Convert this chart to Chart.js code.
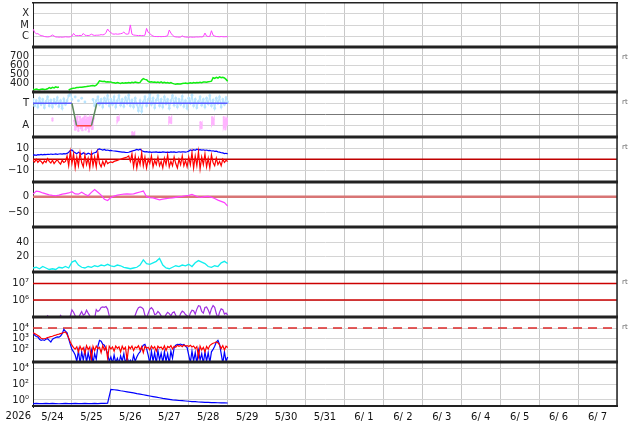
<!DOCTYPE html>
<html>
<head>
<meta charset="utf-8">
<title>Space weather overview</title>
<script src="https://cdn.jsdelivr.net/npm/chart.js@4.4.1/dist/chart.umd.min.js"></script>
<style>
html, body { margin: 0; padding: 0; background: #fff; }
#wrap { position: relative; width: 634px; height: 424px; overflow: hidden; }
#wrap canvas { position: absolute; left: 0; }
</style>
</head>
<body>
<div id="wrap"></div>
<script>
// x axis: days counted from 2026-05-24 00:00, one label per day at noon
var yearLabel = '2026';
var dayLabels = ['5/24', '5/25', '5/26', '5/27', '5/28', '5/29', '5/30', '5/31',
    '6/ 1', '6/ 2', '6/ 3', '6/ 4', '6/ 5', '6/ 6', '6/ 7'];

// panel 1: x-ray flux, 1e-6 W/m2 (C = 1), hourly
var xrayTicks = [1, 10, 100];
var xrayTickLabels = ['C', 'M', 'X'];
var xrayFlux = [
    4.5, 2.4, 1.7, 1.8, 1.4, 1.2, 1.15, 1.0, 0.95, 0.92, 0.95, 1.1, 1.35, 1.1, 0.92, 0.9, 0.88, 0.9, 0.87, 0.9, 0.95, 0.92, 0.9, 0.95,
    1.1, 1.85, 1.25, 1.2, 1.2, 1.25, 1.2, 1.85, 1.3, 1.25, 1.2, 1.3, 1.6, 1.35, 1.25, 1.3, 1.3, 1.35, 1.45, 1.4, 1.5, 2.2, 4.5, 2.8,
    2.2, 1.7, 1.6, 1.7, 1.6, 1.65, 1.75, 1.9, 2.5, 1.7, 1.6, 1.7, 10.2, 1.6, 1.35, 1.3, 1.25, 1.2, 1.25, 1.2, 1.2, 1.3, 5.1, 2.3,
    1.9, 1.3, 1.1, 1.0, 1.0, 0.98, 1.0, 0.97, 1.0, 1.0, 1.05, 1.2, 3.7, 2.0, 1.3, 1.0, 0.92, 0.9, 0.88, 0.9, 1.15, 0.95, 0.9, 0.88,
    0.87, 0.9, 0.88, 0.87, 0.9, 0.92, 0.9, 0.95, 0.92, 1.0, 2.0, 1.1, 1.0, 1.05, 3.2, 1.3, 1.1, 1.0, 0.98, 0.95, 1.0, 0.96, 0.95, 0.97,
    0.96
];

// panel 2: solar wind speed km/s, hourly
var speedTicks = [400, 500, 600, 700];
var windSpeed = [
    330, 326, 332, 328, 325, 330, 334, 328, 331, 336, 348, 340, 352, 345, 358, 350, 355, null, null, null, null, null, 322, 332,
    338, 342, 345, 349, 350, 354, 352, 356, 358, 360, 364, 366, 370, 372, 368, 376, 398, 424, 420, 416, 418, 412, 414, 410,
    412, 404, 402, 398, 405, 400, 396, 402, 398, 403, 399, 404, 400, 408, 404, 410, 406, 402, 407, 432, 448, 440, 436, 418,
    410, 414, 408, 412, 406, 410, 404, 412, 402, 408, 400, 406, 398, 404, 396, 390, 386, 392, 388, 390, 394, 396, 400, 394,
    398, 402, 397, 404, 400, 406, 402, 408, 404, 410, 412, 408, 414, 416, 420, 458, 452, 462, 455, 468, 458, 464, 456, 440,
    420
];

// panel 3: field direction (phi, degrees), T = toward, A = away
var phiTicks = [90, 180, 270];
var phiTickLabels = ['A', '', 'T'];
var sectorDays = [0, 1.0, 1.12, 1.5, 1.64, 5.0];
var sectorPhi = [270, 270, 90, 90, 270, 270];
var phiToward = [
    300, 250, 290, 240, 310, 260, 300, 235, 285, 320, 250, 295, 240, 300, 265, 315, 245, 290, 230, 305, 260, 290, 330, 350,
    300, null, 320, null, 290, null, 310, null, 280, null, null, null, null, 300, 250, 290, 320, 260, 300, 240, 310, 270, 330, 250,
    300, 260, 320, 240, 290, 330, 255, 300, 245, 315, 270, 335, 250, 295, 240, 310, 260, 210, 290, 205, 280, 320, 250, 300,
    340, 260, 310, 235, 295, 330, 250, 300, 240, 320, 265, 300, 230, 290, 330, 255, 310, 240, 300, 260, 325, 245, 290, 230,
    310, 270, 335, 250, 300, 235, 285, 320, 255, 300, 240, 310, 265, 330, 250, 295, 230, 310, 270, 320, 240, 300, 260, 315,
    280
];
// half-hourly from day 1.06
var phiAwayDense = [130, 60, 150, 80, 165, 50, 120, 160, 70, 140, 55, 150, 90, 165, 60, 130, 75, 155, 45, 140, 100, 160, 65, 120, 150];
var phiAwayDays = [0.50, 0.50, 0.50, 2.17, 2.17, 2.20, 2.20, 2.20, 2.55, 2.55, 2.60, 2.60, 2.60, 3.50, 3.50, 3.55, 3.55, 3.55,
    4.30, 4.30, 4.33, 4.33, 4.33, 4.60, 4.60, 4.64, 4.64, 4.64, 4.90, 4.90, 4.94, 4.94, 4.98, 4.98];
var phiAway = [150, 130, null, 160, 130, 150, 135, null, 40, 10, 30, 5, null, 160, 120, 150, 110, null,
    120, 80, 100, 70, null, 160, 110, 140, 100, null, 160, 90, 130, 60, 150, 100];

// panel 4: IMF Bt and Bz, nT, hourly
var imfTicks = [-10, 0, 10];
var imfTickLabels = ['\u221210', '0', '10'];
var imfBt = [
    3.8, 4.0, 3.6, 4.2, 4.0, 4.4, 4.1, 4.5, 4.2, 4.6, 4.4, 4.8, 4.5, 4.6, 4.9, 4.5, 4.8, 5.0, 4.7, 5.2, 5.0, 5.4, 6.5, 8.0,
    8.5, 7.0, 6.0, 5.0, 6.5, 5.5, 4.5, 6.0, 5.0, 4.5, 5.5, 5.0, 4.0, 5.5, 6.0, 6.5, 9.0, 9.5, 9.0, 8.5, 9.0, 8.2, 8.5, 8.0,
    8.2, 7.8, 7.6, 7.4, 7.2, 7.0, 6.8, 6.6, 6.5, 6.3, 6.2, 6.4, 7.0, 7.5, 8.0, 8.4, 9.0, 8.5, 9.2, 8.0, 7.2, 6.8, 7.0, 6.6,
    6.8, 6.4, 6.6, 6.5, 6.8, 6.3, 6.6, 6.4, 6.7, 6.5, 6.3, 6.6, 6.4, 6.8, 6.5, 6.7, 6.4, 6.6, 6.9, 6.5, 6.7, 6.8, 6.5, 6.9,
    7.5, 8.5, 8.0, 8.8, 8.3, 9.2, 8.6, 8.9, 8.4, 8.7, 8.2, 8.5, 7.9, 8.2, 7.6, 7.8, 7.2, 7.4, 6.8, 6.5, 6.0, 5.8, 5.2, 5.5,
    5.0
];
var imfBz = [
    -1, -2.5, 0, -3, -1, -2, -4, -1.5, -3, 0.5, -2, -3.5, -1, -4, -2, -0.5, -3, -4.5, -1, -3, -2, 3, -6, 7,
    -4, 5, -8, 2, -6, 6, -3, -7, 4, -5, 1, -8, 5, -6, 2, -7, 6, -4, -7, -2, -6, -1, -4, -3,
    -2.5, -3, -2, -1.5, -1, -0.5, 0, 0.5, 1, 1.5, 2, 3, -2, 5, -7, 3, -8, 1, -5, 6, -6, 2, -8, 0,
    -4, 3, -7, -1, -5, 2, -6, -2, -8, 1, -5, 4, -7, -2, -6, 2, -4, -8, 0, -5, 3, -6, -1, -7,
    2, -5, 6, -8, 3, -6, 7, -9, 2, -5, 5, -7, 1, -8, 4, -3, -6, 1, -5, -2, -6, 0, -3, -1,
    -2
];

// panel 5: Dst, nT, every 2 hours
var dstTicks = [-50, 0];
var dstTickLabels = ['\u221250', '0'];
var dst = [
    8, 18, 16, 12, 9, 6, 4, 3, 5, 8, 10, 12,
    16, 9, 8, 14, 8, 3, 14, 23, 14, 5, -8, -12,
    -3, 2, 5, 7, 8, 9, 8, 9, 12, 15, 18, 0,
    -3, -4, -7, -10, -8, -6, -5, -4, -2, 0, 1, 3,
    4, 7, 3, -1, -2, 0, 1, -2, -6, -11, -15, -19,
    -30
];

// panel 6: every 2 hours
var cyanTicks = [20, 40];
var cyanValues = [
    5, 6, 4, 7, 5, 3, 4, 3, 6, 5, 7, 5,
    13, 15, 9, 6, 5, 7, 6, 8, 7, 9, 8, 10,
    8, 7, 9, 8, 6, 5, 4, 5, 6, 9, 16, 11,
    10, 12, 14, 18, 9, 5, 4, 6, 8, 7, 9, 8,
    10, 7, 12, 15, 13, 11, 7, 6, 8, 7, 12, 14,
    11
];

// panel 7: electron flux, hourly
var electronTicks = [1e6, 1e7];
var electronTickLabels = ['10\u2076', '10\u2077'];
var electronLevels = [1e7, 1e6];
var electronFlux = [
    8e4, 8e4, 8e4, 8e4, 8e4, 8e4, 8e4, 8e4, 8e4, 1.1e5, 8e4, 8e4, 8e4, 8e4, 8e4, 8e4, 8e4, 1.15e5, 8e4, 8e4, 8e4, 8e4, 8e4, 1.1e5,
    2.5e5, 1.8e5, 1.1e5, 8e4, 8e4, 1.3e5, 2.0e5, 1.2e5, 1.4e5, 2.4e5, 1.6e5, 1.1e5, 8e4, 8e4, 8e4, 2.6e5, 2.0e5, 2.4e5, 3.5e5, 3.8e5, 3.6e5, 4.0e5, 2.8e5, 1.1e5,
    8e4, 8e4, 8e4, 8e4, 8e4, 8e4, 8e4, 8e4, 8e4, 8e4, 8e4, 8e4, 8e4, 8e4, 8e4, 1.2e5, 2.2e5, 3.4e5, 3.8e5, 3.5e5, 2.8e5, 1.2e5, 8e4, 1.5e5,
    2.8e5, 3.4e5, 2.6e5, 1.3e5, 1.4e5, 2.0e5, 1.6e5, 1.1e5, 8e4, 8e4, 1.3e5, 1.8e5, 1.5e5, 1.1e5, 1.7e5, 1.9e5, 1.2e5, 8e4, 8e4, 1.5e5, 2.1e5, 1.8e5, 1.3e5, 1.1e5,
    8e4, 1.6e5, 2.4e5, 2.2e5, 1.4e5, 2.8e5, 4.5e5, 4.2e5, 2.0e5, 1.6e5, 3.5e5, 3.8e5, 2.5e5, 1.4e5, 3.0e5, 4.6e5, 3.6e5, 1.5e5, 8e4, 1.8e5, 2.9e5, 2.6e5, 1.4e5, 1.6e5,
    1.2e5
];

// panel 8: proton flux, hourly
var protonTicks = [1e2, 1e3, 1e4];
var protonTickLabels = ['10\u00b2', '10\u00b3', '10\u2074'];
var protonLevel = 1e4;
var protonRed = [
    3600, 3000, 2500, 2000, 1600, 1100, 1000, 1000, 1100, 1300, 1400, 1600, 1700, 2000, 2200, 2500, 2700, 3000, 3300, 3800, 4300, 2500, 1200, 500,
    250, 150, 110, 180, 60, 200, 90, 150, 40, 220, 100, 170, 12, 190, 80, 210, 120, 160, 50, 230, 90, 180, 15, 200,
    110, 170, 70, 210, 130, 180, 60, 200, 100, 160, 10, 190, 120, 210, 80, 170, 140, 220, 90, 180, 50, 200, 130, 160,
    90, 210, 120, 180, 70, 200, 140, 170, 100, 220, 80, 190, 150, 230, 110, 200, 160, 250, 200, 240, 180, 260, 210, 230,
    190, 250, 170, 210, 120, 180, 20, 200, 90, 160, 60, 190, 110, 230, 300, 380, 420, 500, 420, 260, 120, 230, 90, 200,
    150
];
var protonBlue = [
    3600, 2200, 1600, 1500, 900, 700, 800, 700, 900, 1000, 700, 500, 900, 1100, 1300, 1500, 1400, 1800, 3000, 7500, 5000, 3500, 1000, 300,
    100, 60, 30, 8, 80, 5, 60, 10, 90, 6, 50, 9, 80, 5, 40, 12, 200, 700, 600, 300, 250, 100, 40, 8,
    20, 5, 30, 6, 15, 5, 25, 8, 40, 5, 20, 6, 10, 5, 30, 8, 20, 40, 60, 150, 250, 300, 120, 30,
    5, 70, 8, 50, 5, 80, 10, 45, 6, 60, 8, 40, 5, 70, 15, 150, 250, 300, 280, 320, 260, 300, 200, 150,
    30, 6, 70, 8, 50, 5, 80, 10, 40, 5, 60, 8, 50, 6, 60, 100, 200, 500, 700, 300, 40, 5, 60, 8,
    20
];

// panel 9: every 2 hours
var lowTicks = [1, 1e2, 1e4];
var lowTickLabels = ['10\u2070', '10\u00b2', '10\u2074'];
var lowValues = [
    0.33, 0.36, 0.34, 0.35, 0.37, 0.34, 0.36, 0.35, 0.33, 0.35, 0.36, 0.34,
    0.35, 0.37, 0.35, 0.34, 0.36, 0.35, 0.34, 0.36, 0.35, 0.36, 0.37, 0.4,
    22, 20, 18, 15, 13, 11, 9.5, 8, 6.5, 5.5, 4.6, 3.8,
    3.2, 2.7, 2.3, 1.9, 1.6, 1.4, 1.2, 1.05, 0.95, 0.85, 0.8, 0.74,
    0.68, 0.63, 0.6, 0.55, 0.52, 0.5, 0.48, 0.46, 0.45, 0.44, 0.43, 0.42,
    0.41
];

Chart.defaults.font.family = 'DejaVu Sans';
Chart.defaults.font.size = 10;
Chart.defaults.color = '#222';

var wrap = document.getElementById('wrap');
var PANEL_TOP = 2, PANEL_H = 45, AXIS_W = 33, RIGHT_PAD = 17;

// values at a fixed step (hours) from a start day
function timed(values, stepHours, startDay) {
    stepHours = stepHours || 1;
    startDay = startDay || 0;
    return values.map(function (v, i) {
        return { x: startDay + i * stepHours / 24, y: v };
    });
}

function paired(days, values) {
    return values.map(function (v, i) { return { x: days[i], y: v }; });
}

function level(value) {
    return [{ x: 0, y: value }, { x: 15, y: value }];
}

function line(data, color, width, extra) {
    var ds = {
        data: data,
        borderColor: color,
        backgroundColor: color,
        borderWidth: width || 1,
        pointRadius: 0,
        fill: false
    };
    return Object.assign(ds, extra || {});
}

// tick labels must not shrink the plot area
function noPadding(scale) {
    scale.paddingTop = 0;
    scale.paddingBottom = 0;
    scale.paddingLeft = 0;
    scale.paddingRight = 0;
}

var framePlugin = {
    id: 'frame',
    afterDraw: function (chart, args, opts) {
        var a = chart.chartArea;
        var ctx = chart.ctx;
        ctx.save();
        ctx.strokeStyle = '#222';
        ctx.lineWidth = 3;
        ctx.beginPath();
        ctx.moveTo(a.left - 1, a.top);
        ctx.lineTo(a.right + 1, a.top);
        ctx.stroke();
        ctx.lineWidth = opts.last ? 2 : 3;
        ctx.beginPath();
        ctx.moveTo(a.left - 1, opts.last ? a.bottom - 1 : a.bottom);
        ctx.lineTo(a.right + 1, opts.last ? a.bottom - 1 : a.bottom);
        ctx.stroke();
        ctx.lineWidth = 1.5;
        ctx.beginPath();
        ctx.moveTo(a.right, a.top);
        ctx.lineTo(a.right, a.bottom);
        ctx.stroke();
        if (opts.rt) {
            ctx.fillStyle = '#666';
            ctx.font = '7px "DejaVu Sans"';
            ctx.textBaseline = 'middle';
            ctx.fillText('rt', a.right + 5, a.top + 10);
        }
        if (opts.last) {
            ctx.fillStyle = '#111';
            ctx.font = '10px "DejaVu Sans"';
            ctx.textAlign = 'right';
            ctx.textBaseline = 'top';
            ctx.fillText(yearLabel, 31, a.bottom + 4);
        }
        ctx.restore();
    }
};

function makePanel(index, cfg) {
    var last = index === 8;
    var canvas = document.createElement('canvas');
    canvas.width = 634;
    canvas.height = last ? 62 : PANEL_H;
    canvas.style.top = (PANEL_TOP + PANEL_H * index) + 'px';
    wrap.appendChild(canvas);

    return new Chart(canvas, {
        type: 'line',
        data: { datasets: cfg.datasets },
        options: {
            responsive: false,
            animation: false,
            events: [],
            layout: { autoPadding: false, padding: { left: 0, right: RIGHT_PAD, top: 0, bottom: 0 } },
            plugins: {
                legend: { display: false },
                tooltip: { enabled: false },
                frame: { rt: !!cfg.rt, last: last }
            },
            scales: {
                x: {
                    type: 'linear',
                    min: 0,
                    max: 15,
                    afterBuildTicks: function (scale) {
                        var ticks = [];
                        for (var i = 0; i <= 30; i++) ticks.push({ value: i / 2 });
                        scale.ticks = ticks;
                    },
                    afterFit: function (scale) {
                        noPadding(scale);
                        scale.height = last ? 17 : 0;
                    },
                    grid: {
                        drawTicks: false,
                        color: function (ctx) {
                            return ctx.tick && ctx.tick.value % 1 === 0 ? '#c8c8c8' : 'rgba(0,0,0,0)';
                        }
                    },
                    border: { display: false },
                    ticks: {
                        display: last,
                        autoSkip: false,
                        maxRotation: 0,
                        padding: 4,
                        color: '#111',
                        callback: function (value) {
                            return value % 1 === 0.5 ? dayLabels[Math.floor(value)] : '';
                        }
                    }
                },
                y: {
                    type: cfg.type || 'linear',
                    min: cfg.min,
                    max: cfg.max,
                    bounds: 'data',
                    afterBuildTicks: function (scale) {
                        scale.ticks = cfg.ticks.map(function (v) { return { value: v }; });
                    },
                    afterFit: function (scale) {
                        noPadding(scale);
                        scale.width = AXIS_W;
                    },
                    grid: { drawTicks: false, color: cfg.gridColor || '#d4d4d4' },
                    border: { color: '#222', width: 1 },
                    ticks: {
                        autoSkip: false,
                        padding: 4,
                        color: '#222',
                        callback: function (value, i) { return cfg.labels[i]; }
                    }
                }
            }
        },
        plugins: [framePlugin]
    });
}

var sectorColor = function (ctx) {
    var a = ctx.p0.parsed.y, b = ctx.p1.parsed.y;
    if (a !== b) return '#5f8a5f';
    return a > 180 ? '#5a5aff' : '#ff4444';
};

var panels = [
    {
        type: 'logarithmic', min: 0.123, max: 1000, ticks: xrayTicks, labels: xrayTickLabels,
        datasets: [line(timed(xrayFlux), '#ff40ff', 1)]
    },
    {
        min: 300, max: 800, ticks: speedTicks, labels: speedTicks.map(String), rt: true,
        datasets: [line(timed(windSpeed), '#11ee11', 1.5)]
    },
    {
        min: 0, max: 360, ticks: phiTicks, labels: phiTickLabels, rt: true,
        gridColor: function (ctx) { return ctx.tick && ctx.tick.value === 180 ? '#777' : '#d4d4d4'; },
        datasets: [
            line(paired(sectorDays, sectorPhi), '#5a5aff', 1.5, { segment: { borderColor: sectorColor } }),
            line(timed(phiToward), '#b8e4ff', 1.3, { pointRadius: 1.4, pointBorderWidth: 0 }),
            line(timed(phiAwayDense, 0.5, 1.06), '#ffb4ff', 1.5, { pointRadius: 1.2, pointBorderWidth: 0 }),
            line(paired(phiAwayDays, phiAway), '#ffb4ff', 2, { pointRadius: 1, pointBorderWidth: 0 })
        ]
    },
    {
        min: -21, max: 20.5, ticks: imfTicks, labels: imfTickLabels, rt: true,
        datasets: [
            line(timed(imfBz), '#ff0000', 1.2),
            line(timed(imfBt), '#0000ff', 1.2),
            line(level(0), '#c00000', 1.5)
        ]
    },
    {
        min: -97, max: 47, ticks: dstTicks, labels: dstTickLabels,
        datasets: [
            line(timed(dst, 2), '#ff40ff', 1.2),
            line(level(0), '#d87575', 2.5)
        ]
    },
    {
        min: -0.4, max: 60.4, ticks: cyanTicks, labels: cyanTicks.map(String),
        datasets: [line(timed(cyanValues, 2), '#11eeee', 1.3)]
    },
    {
        type: 'logarithmic', min: 9.3e4, max: 5.0e7, ticks: electronTicks, labels: electronTickLabels, rt: true,
        datasets: [line(timed(electronFlux), '#a030e0', 1.2)].concat(electronLevels.map(function (v) {
            return line(level(v), '#cc0000', 1.3);
        }))
    },
    {
        type: 'logarithmic', min: 6.76, max: 1.07e5, ticks: protonTicks, labels: protonTickLabels, rt: true,
        datasets: [
            line(timed(protonRed), '#ff0000', 1.2),
            line(timed(protonBlue), '#0000ff', 1.2),
            line(level(protonLevel), '#dd2a2a', 1.5, { borderDash: [9, 6] })
        ]
    },
    {
        type: 'logarithmic', min: 0.126, max: 7.08e4, ticks: lowTicks, labels: lowTickLabels,
        datasets: [line(timed(lowValues, 2), '#0000ff', 1.2)]
    }
];

panels.forEach(function (cfg, i) { makePanel(i, cfg); });
</script>
</body>
</html>
